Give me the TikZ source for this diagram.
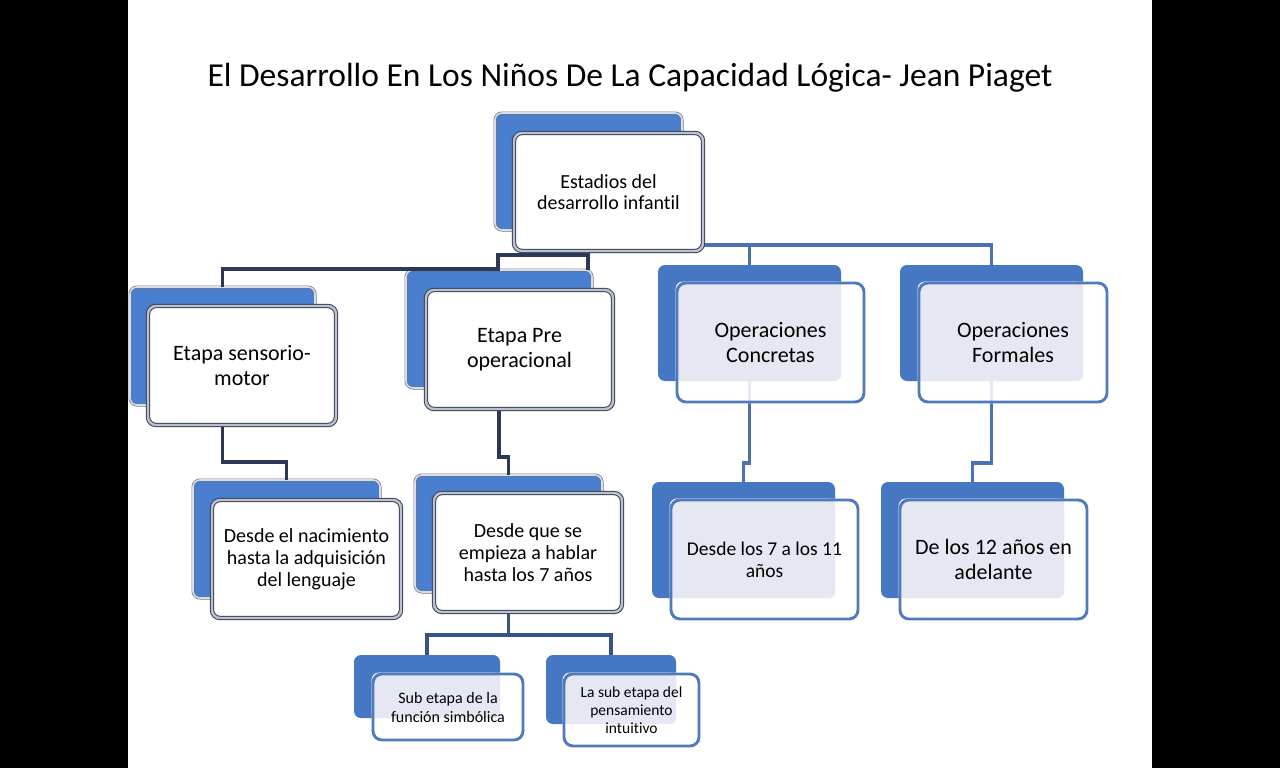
\documentclass[tikz,border=0pt]{standalone}
\usepackage{fontspec}
\setmainfont{Carlito}[Ligatures=NoCommon]
\pgfdeclarelayer{bg}
\pgfdeclarelayer{lines}
\pgfdeclarelayer{mid}
\pgfsetlayers{bg,lines,mid,main}
\definecolor{threeblue}{HTML}{4A7ECF}
\definecolor{threeedge}{HTML}{6B768C}
\definecolor{threebevel}{HTML}{D9DDE5}
\definecolor{frontedge}{HTML}{353F58}
\definecolor{frontbevel}{HTML}{BCC1CB}
\definecolor{navyline}{HTML}{2C3857}
\definecolor{midline}{HTML}{37538E}
\definecolor{flatblue}{HTML}{4677C2}
\definecolor{flatedge}{HTML}{4F7BBD}
\definecolor{lav}{HTML}{E5E8F2}
\definecolor{flatline}{HTML}{4A72B2}
\newcommand\fsz[2]{\fontsize{#1}{#2}\selectfont}
\begin{document}
\begin{tikzpicture}[x=1pt,y=-1pt,
 back3/.style 2 args={rectangle, rounded corners=7pt, minimum width=#1, minimum height=#2, inner sep=0pt, fill=threeblue, draw=threeedge, double=threebevel, line width=0.7pt, double distance=1.6pt},
 front3/.style 2 args={rectangle, rounded corners=8pt, minimum width=#1, minimum height=#2, inner sep=0pt, fill=white, draw=frontedge, double=frontbevel, line width=1pt, double distance=2.4pt, align=center, text=black},
 backF/.style 2 args={rectangle, rounded corners=7pt, minimum width=#1, minimum height=#2, inner sep=0pt, fill=flatblue},
 frontF/.style 2 args={rectangle, rounded corners=9pt, minimum width=#1, minimum height=#2, inner sep=0pt, draw=flatedge, line width=2.9pt, align=center, text=black},
 con3/.style={draw=navyline, line width=3.2pt},
 conM/.style={draw=midline, line width=3.2pt},
 conF/.style={draw=flatline, line width=3.2pt},
 veil/.style={fill=white, fill opacity=0.85, rounded corners=9pt},
 overlap/.style={fill=lav, rounded corners=7pt}
]
\useasboundingbox (0,0) rectangle (1280,768);
\begin{pgfonlayer}{bg}
 \fill[black] (0,0) rectangle (1280,768);
 \fill[white] (128,0) rectangle (1152,768);
 % back boxes
 \node[back3={187}{117}] (estB) at (588.5,171.5) {};
 \node[back3={185}{118}] (senB) at (222.5,346) {};
 \node[back3={186}{118}] (preB) at (499,329) {};
 \node[back3={187}{118}] (nacB) at (286.5,539) {};
 \node[back3={187}{117}] (habB) at (508.5,533.5) {};
 \node[backF={183}{116}] (conB) at (749.5,323) {};
 \node[backF={183}{116}] (forB) at (991.5,323) {};
 \node[backF={183}{116}] (d7B) at (743.5,540) {};
 \node[backF={183}{116}] (d12B) at (972.5,540) {};
 \node[backF={146}{63}] (simB) at (427,686.5) {};
 \node[backF={130}{69}] (intB) at (611,689.5) {};
\end{pgfonlayer}

\node[anchor=base, font=\fsz{33.5}{38}] (title) at (630,86) {El Desarrollo En Los Niños De La Capacidad Lógica- Jean Piaget};

% front boxes, 3D style
\node[front3={189}{118}, font=\fsz{20}{21}] (estF) at (608.5,192) {Estadios del\\desarrollo infantil};
\node[front3={188}{119}, font=\fsz{22}{25}] (senF) at (242,365.5) {Etapa sensorio-\\motor};
\node[front3={187}{119}, font=\fsz{22}{25}] (preF) at (519.5,349.5) {Etapa Pre\\operacional};
\node[front3={189}{118}, font=\fsz{20}{22}] (nacF) at (306.5,559) {Desde el nacimiento\\hasta la adquisición\\del lenguaje};
\node[front3={188}{119}, font=\fsz{20}{22}] (habF) at (528,552.5) {Desde que se\\empieza a hablar\\hasta los 7 años};

% front boxes, flat style
\node[frontF={187}{119}, font=\fsz{22}{25}] (conF) at (770.5,342.5) {Operaciones\\Concretas};
\node[frontF={188}{119}, font=\fsz{22}{25}] (forF) at (1013,342.5) {Operaciones\\Formales};
\node[frontF={187}{119}, font=\fsz{19.5}{22}] (d7F) at (764.5,559.5) {Desde los 7 a los 11\\años};
\node[frontF={187}{119}, font=\fsz{22}{25}] (d12F) at (993.5,559.5) {De los 12 años en\\adelante};
\node[frontF={150}{66}, font=\fsz{16}{19}] (simF) at (448,707) {Sub etapa de la\\función simbólica};
\node[frontF={135}{72}, font=\fsz{15.5}{18}] (intF) at (631.5,710) {La sub etapa del\\pensamiento\\intuitivo};

\begin{pgfonlayer}{mid}
 \foreach \n in {con,for,d7,d12,sim,int}{
  \fill[veil] (\n F.north west) rectangle (\n F.south east);
  \fill[overlap] (\n F.north west) rectangle (\n B.south east);
 }
\end{pgfonlayer}

% connectors
\begin{pgfonlayer}{lines}
 \coordinate (jA) at (498,255);
 \coordinate (jB) at (588,255);
 \coordinate (jC) at (498,269);
 \draw[con3] (senB.north) |- (jC) -- (jA) -- (jB) -- (jB |- preB.north);
 \coordinate (kA) at (222.5,462);
 \draw[con3] (senF.south -| senB.north) -- (kA) -| (nacB.north);
 \coordinate (kB) at (499,457);
 \draw[con3] (preF.south -| preB.north) -- (kB) -| (habB.north);
 \coordinate (kC) at (508.5,635);
 \draw[conM] (habF.south -| habB.north) -- (kC);
 \draw[conM] (simB.north) |- (kC) -| (intB.north);
 \coordinate (kD) at (703,245);
 \draw[conF] (kD) -| (conB.north);
 \draw[conF] (kD) -| (forB.north);
 \coordinate (kE) at (749.5,463);
 \draw[conF] (conB.south) -- (kE) -| (d7B.north);
 \coordinate (kF) at (991.5,463);
 \draw[conF] (forB.south) -- (kF) -| (d12B.north);
\end{pgfonlayer}
\end{tikzpicture}
\end{document}
